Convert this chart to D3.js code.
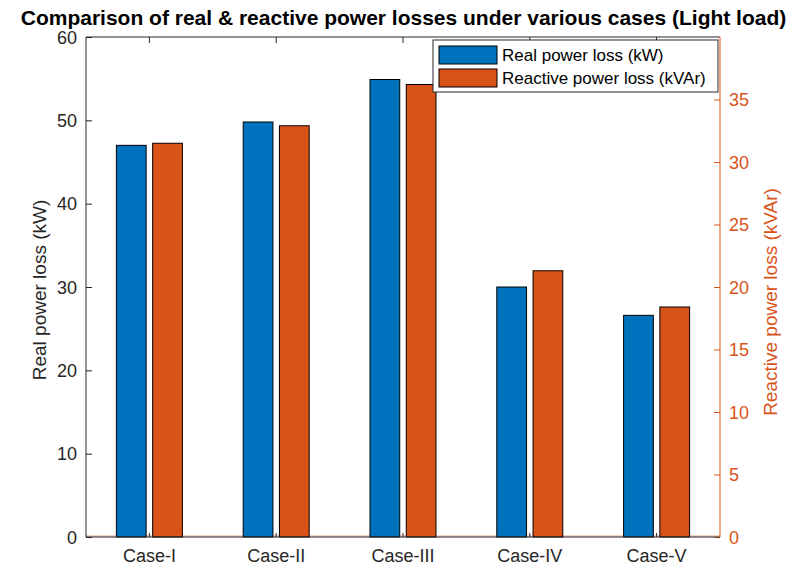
<!DOCTYPE html>
<html lang="en">
  <head>
    <meta charset="UTF-8" />
    <title>Real & reactive power losses</title>
    <script src="https://cdn.jsdelivr.net/npm/d3@7"></script>
    <style>
      body {
        margin: 0;
        padding: 0;
        background: #fff;
      }
      text {
        font-family: "Liberation Sans", Arial, sans-serif;
      }
    </style>
  </head>
  <body>
    <svg id="chart"></svg>
    <script>
      // datos
      const cases = ["Case-I", "Case-II", "Case-III", "Case-IV", "Case-V"];
      const realLoss = [47.0, 49.8, 54.9, 30.0, 26.6]; // kW
      const reactiveLoss = [31.5, 32.9, 36.2, 21.3, 18.4]; // kVAr
      const leftTicks = [0, 10, 20, 30, 40, 50, 60];
      const rightTicks = [0, 5, 10, 15, 20, 25, 30, 35];
      const seriesNames = ["Real power loss (kW)", "Reactive power loss (kVAr)"];

      const width = 795;
      const height = 569;
      const margin = { top: 37, right: 75, bottom: 32, left: 86 };
      const blue = "#0072BD";
      const orange = "#D95319";
      const axisColor = "#262626";
      const tickFont = "18px";

      const svg = d3.select("#chart").attr("width", width).attr("height", height);

      const x0 = d3
        .scaleBand()
        .domain(cases)
        .range([margin.left, width - margin.right])
        .paddingInner(0)
        .paddingOuter(0);

      const yL = d3.scaleLinear().domain([0, 60]).range([height - margin.bottom, margin.top]);
      const yR = d3.scaleLinear().domain([0, 40]).range([height - margin.bottom, margin.top]);

      const x1 = d3
        .scaleBand()
        .domain(["real", "reactive"])
        .range([x0.bandwidth() / 2 - 33, x0.bandwidth() / 2 + 33])
        .paddingInner(0.18);

      const rows = cases.map((c, i) => ({ c, real: realLoss[i], reactive: reactiveLoss[i] }));

      // baseline
      svg
        .append("line")
        .attr("x1", margin.left)
        .attr("x2", width - margin.right)
        .attr("y1", yL(0) - 1)
        .attr("y2", yL(0) - 1)
        .attr("stroke", "#f0a080")
        .attr("stroke-width", 1);

      const groups = svg
        .selectAll(".grp")
        .data(rows)
        .enter()
        .append("g")
        .attr("class", "grp")
        .attr("transform", (d) => `translate(${x0(d.c)},0)`);

      groups
        .append("rect")
        .attr("x", x1("real"))
        .attr("width", x1.bandwidth())
        .attr("y", (d) => yL(d.real))
        .attr("height", (d) => yL(0) - yL(d.real))
        .attr("fill", blue)
        .attr("stroke", "#000")
        .attr("stroke-width", 1);

      groups
        .append("rect")
        .attr("x", x1("reactive"))
        .attr("width", x1.bandwidth())
        .attr("y", (d) => yR(d.reactive))
        .attr("height", (d) => yR(0) - yR(d.reactive))
        .attr("fill", orange)
        .attr("stroke", "#000")
        .attr("stroke-width", 1);

      // ejes
      const left = svg
        .append("g")
        .attr("transform", `translate(${margin.left},0)`)
        .call(d3.axisRight(yL).tickValues(leftTicks).tickSize(6).tickFormat(""));
      left.select(".domain").remove();
      left.selectAll("line").attr("stroke", axisColor);
      svg
        .append("g")
        .selectAll("text")
        .data(leftTicks)
        .enter()
        .append("text")
        .attr("x", margin.left - 9)
        .attr("y", (d) => yL(d) + 6.5)
        .attr("text-anchor", "end")
        .attr("font-size", tickFont)
        .attr("fill", axisColor)
        .text((d) => d);

      const right = svg
        .append("g")
        .attr("transform", `translate(${width - margin.right},0)`)
        .call(d3.axisLeft(yR).tickValues(rightTicks).tickSize(6).tickFormat(""));
      right.select(".domain").remove();
      right.selectAll("line").attr("stroke", orange);
      svg
        .append("g")
        .selectAll("text")
        .data(rightTicks)
        .enter()
        .append("text")
        .attr("x", width - margin.right + 9)
        .attr("y", (d) => yR(d) + 6.5)
        .attr("text-anchor", "start")
        .attr("font-size", tickFont)
        .attr("fill", orange)
        .text((d) => d);

      // ticks arriba y abajo
      const xb = svg
        .append("g")
        .attr("transform", `translate(0,${height - margin.bottom})`)
        .call(d3.axisTop(x0).tickSize(4).tickFormat(""));
      xb.select(".domain").remove();
      xb.selectAll("line").attr("stroke", axisColor);
      const xt = svg
        .append("g")
        .attr("transform", `translate(0,${margin.top})`)
        .call(d3.axisBottom(x0).tickSize(6).tickFormat(""));
      xt.select(".domain").remove();
      xt.selectAll("line").attr("stroke", axisColor);

      svg
        .append("g")
        .selectAll("text")
        .data(cases)
        .enter()
        .append("text")
        .attr("x", (d) => x0(d) + x0.bandwidth() / 2)
        .attr("y", height - margin.bottom + 25)
        .attr("text-anchor", "middle")
        .attr("font-size", tickFont)
        .attr("fill", axisColor)
        .text((d) => d);

      // marco
      const x_l = margin.left,
        x_r = width - margin.right,
        y_t = margin.top,
        y_b = height - margin.bottom;
      svg.append("line").attr("x1", x_l).attr("x2", x_r).attr("y1", y_t).attr("y2", y_t).attr("stroke", axisColor);
      svg.append("line").attr("x1", x_l).attr("x2", x_r).attr("y1", y_b).attr("y2", y_b).attr("stroke", axisColor);
      svg.append("line").attr("x1", x_l).attr("x2", x_l).attr("y1", y_t).attr("y2", y_b).attr("stroke", axisColor);
      svg.append("line").attr("x1", x_r).attr("x2", x_r).attr("y1", y_t).attr("y2", y_b).attr("stroke", orange);

      // títulos
      svg
        .append("text")
        .attr("x", width / 2 + 6)
        .attr("y", 25)
        .attr("text-anchor", "middle")
        .attr("font-size", "21px")
        .attr("font-weight", "bold")
        .attr("fill", "#000")
        .text("Comparison of real & reactive power losses under various cases (Light load)");

      svg
        .append("text")
        .attr("transform", `translate(46,${(y_t + y_b) / 2 + 3}) rotate(-90)`)
        .attr("text-anchor", "middle")
        .attr("font-size", "19px")
        .attr("fill", axisColor)
        .text("Real power loss (kW)");

      svg
        .append("text")
        .attr("transform", `translate(777,${(y_t + y_b) / 2 + 15}) rotate(-90)`)
        .attr("text-anchor", "middle")
        .attr("font-size", "19px")
        .attr("fill", orange)
        .text("Reactive power loss (kVAr)");

      // leyenda
      const lg = svg.append("g").attr("transform", "translate(433,40)");
      lg.append("rect")
        .attr("width", 285)
        .attr("height", 52)
        .attr("fill", "#fff")
        .attr("stroke", "#262626")
        .attr("stroke-width", 1);
      [blue, orange].forEach((col, i) => {
        lg.append("rect")
          .attr("x", 6)
          .attr("y", 6 + i * 23)
          .attr("width", 58)
          .attr("height", 18)
          .attr("fill", col)
          .attr("stroke", "#000");
        lg.append("text")
          .attr("x", 69)
          .attr("y", 21 + i * 23)
          .attr("font-size", "17px")
          .attr("fill", "#000")
          .text(seriesNames[i]);
      });
    </script>
  </body>
</html>
